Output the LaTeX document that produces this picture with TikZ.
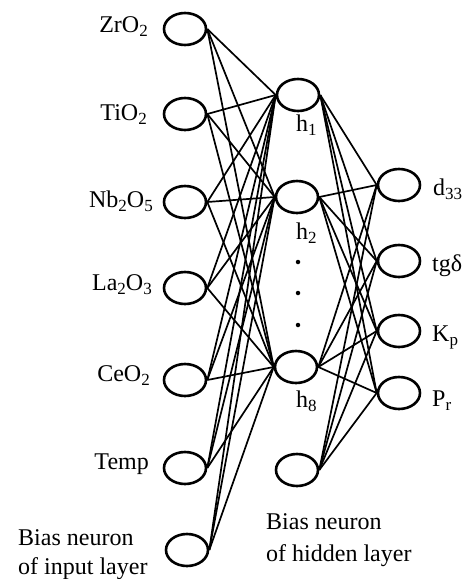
\documentclass[tikz,border=0pt]{standalone}
\usepackage{fontspec}
\setmainfont{Liberation Serif}
\usetikzlibrary{shapes.geometric}
\newcommand{\lowsub}[1]{\raisebox{-4pt}{\fontsize{17}{17}\selectfont #1}}
\begin{document}
\begin{tikzpicture}[x=1pt,y=-1pt,
  neuron/.style={draw, ellipse, line width=2.6pt, minimum width=42pt, minimum height=32pt, inner sep=0pt},
  conn/.style={line width=1.7pt},
  lbl/.style={font=\fontsize{24}{28}\selectfont, inner sep=0pt},
  dotmark/.style={fill, circle, inner sep=0pt, minimum size=4.5pt}]
\useasboundingbox (0,0) rectangle (468,579);
% input layer
\node[neuron] (i1) at (185,29) {};
\node[neuron] (i2) at (185,114) {};
\node[neuron] (i3) at (185,202) {};
\node[neuron] (i4) at (185,288) {};
\node[neuron] (i5) at (185,380) {};
\node[neuron] (i6) at (185,468) {};
\node[neuron] (i7) at (187,550) {};
% hidden layer
\node[neuron] (h1) at (298,95) {};
\node[neuron] (h2) at (297,197) {};
\node[neuron] (h8) at (296,367) {};
\node[neuron] (hb) at (297,470) {};
% output layer
\node[neuron] (o1) at (399,185) {};
\node[neuron] (o2) at (399,261) {};
\node[neuron] (o3) at (399,331) {};
\node[neuron] (o4) at (399,393) {};
% connectors
\foreach \i in {i1,i2,i3,i4,i5,i6,i7}
  \foreach \h in {h1,h2,h8}
    \draw[conn] (\i.east) -- (\h.west);
\foreach \h in {h1,h2,h8,hb}
  \foreach \o in {o1,o2,o3,o4}
    \draw[conn] (\h.east) -- (\o.west);
% dots
\node[dotmark] (d1) at (298,262) {};
\node[dotmark] (d2) at (298,293) {};
\node[dotmark] (d3) at (298,325) {};
% input labels
\node[lbl, anchor=base east] (l1) at (148,32) {ZrO\lowsub{2}};
\node[lbl, anchor=base east] (l2) at (147,120) {TiO\lowsub{2}};
\node[lbl, anchor=base east] (l3) at (153,207) {Nb\lowsub{2}O\lowsub{5}};
\node[lbl, anchor=base east] (l4) at (152,290) {La\lowsub{2}O\lowsub{3}};
\node[lbl, anchor=base east] (l5) at (150,381) {CeO\lowsub{2}};
\node[lbl, anchor=base east] (l6) at (149,469) {Temp};
\node[lbl, anchor=base west] (l7) at (18,545) {Bias neuron};
\node[lbl, anchor=base west] (l7b) at (18,574) {of input layer};
% hidden labels
\node[lbl, anchor=base west] (lh1) at (296,131) {h\lowsub{1}};
\node[lbl, anchor=base west] (lh2) at (296,239) {h\lowsub{2}};
\node[lbl, anchor=base west] (lh8) at (296,407) {h\lowsub{8}};
\node[lbl, anchor=base west] (lhb) at (266,529) {Bias neuron};
\node[lbl, anchor=base west] (lhbb) at (266,561) {of hidden layer};
% output labels
\node[lbl, anchor=base west] (lo1) at (433,195) {d\lowsub{33}};
\node[lbl, anchor=base west] (lo2) at (432,271) {tgδ};
\node[lbl, anchor=base west] (lo3) at (432,341) {K\lowsub{p}};
\node[lbl, anchor=base west] (lo4) at (432,406) {P\lowsub{r}};
\end{tikzpicture}
\end{document}
